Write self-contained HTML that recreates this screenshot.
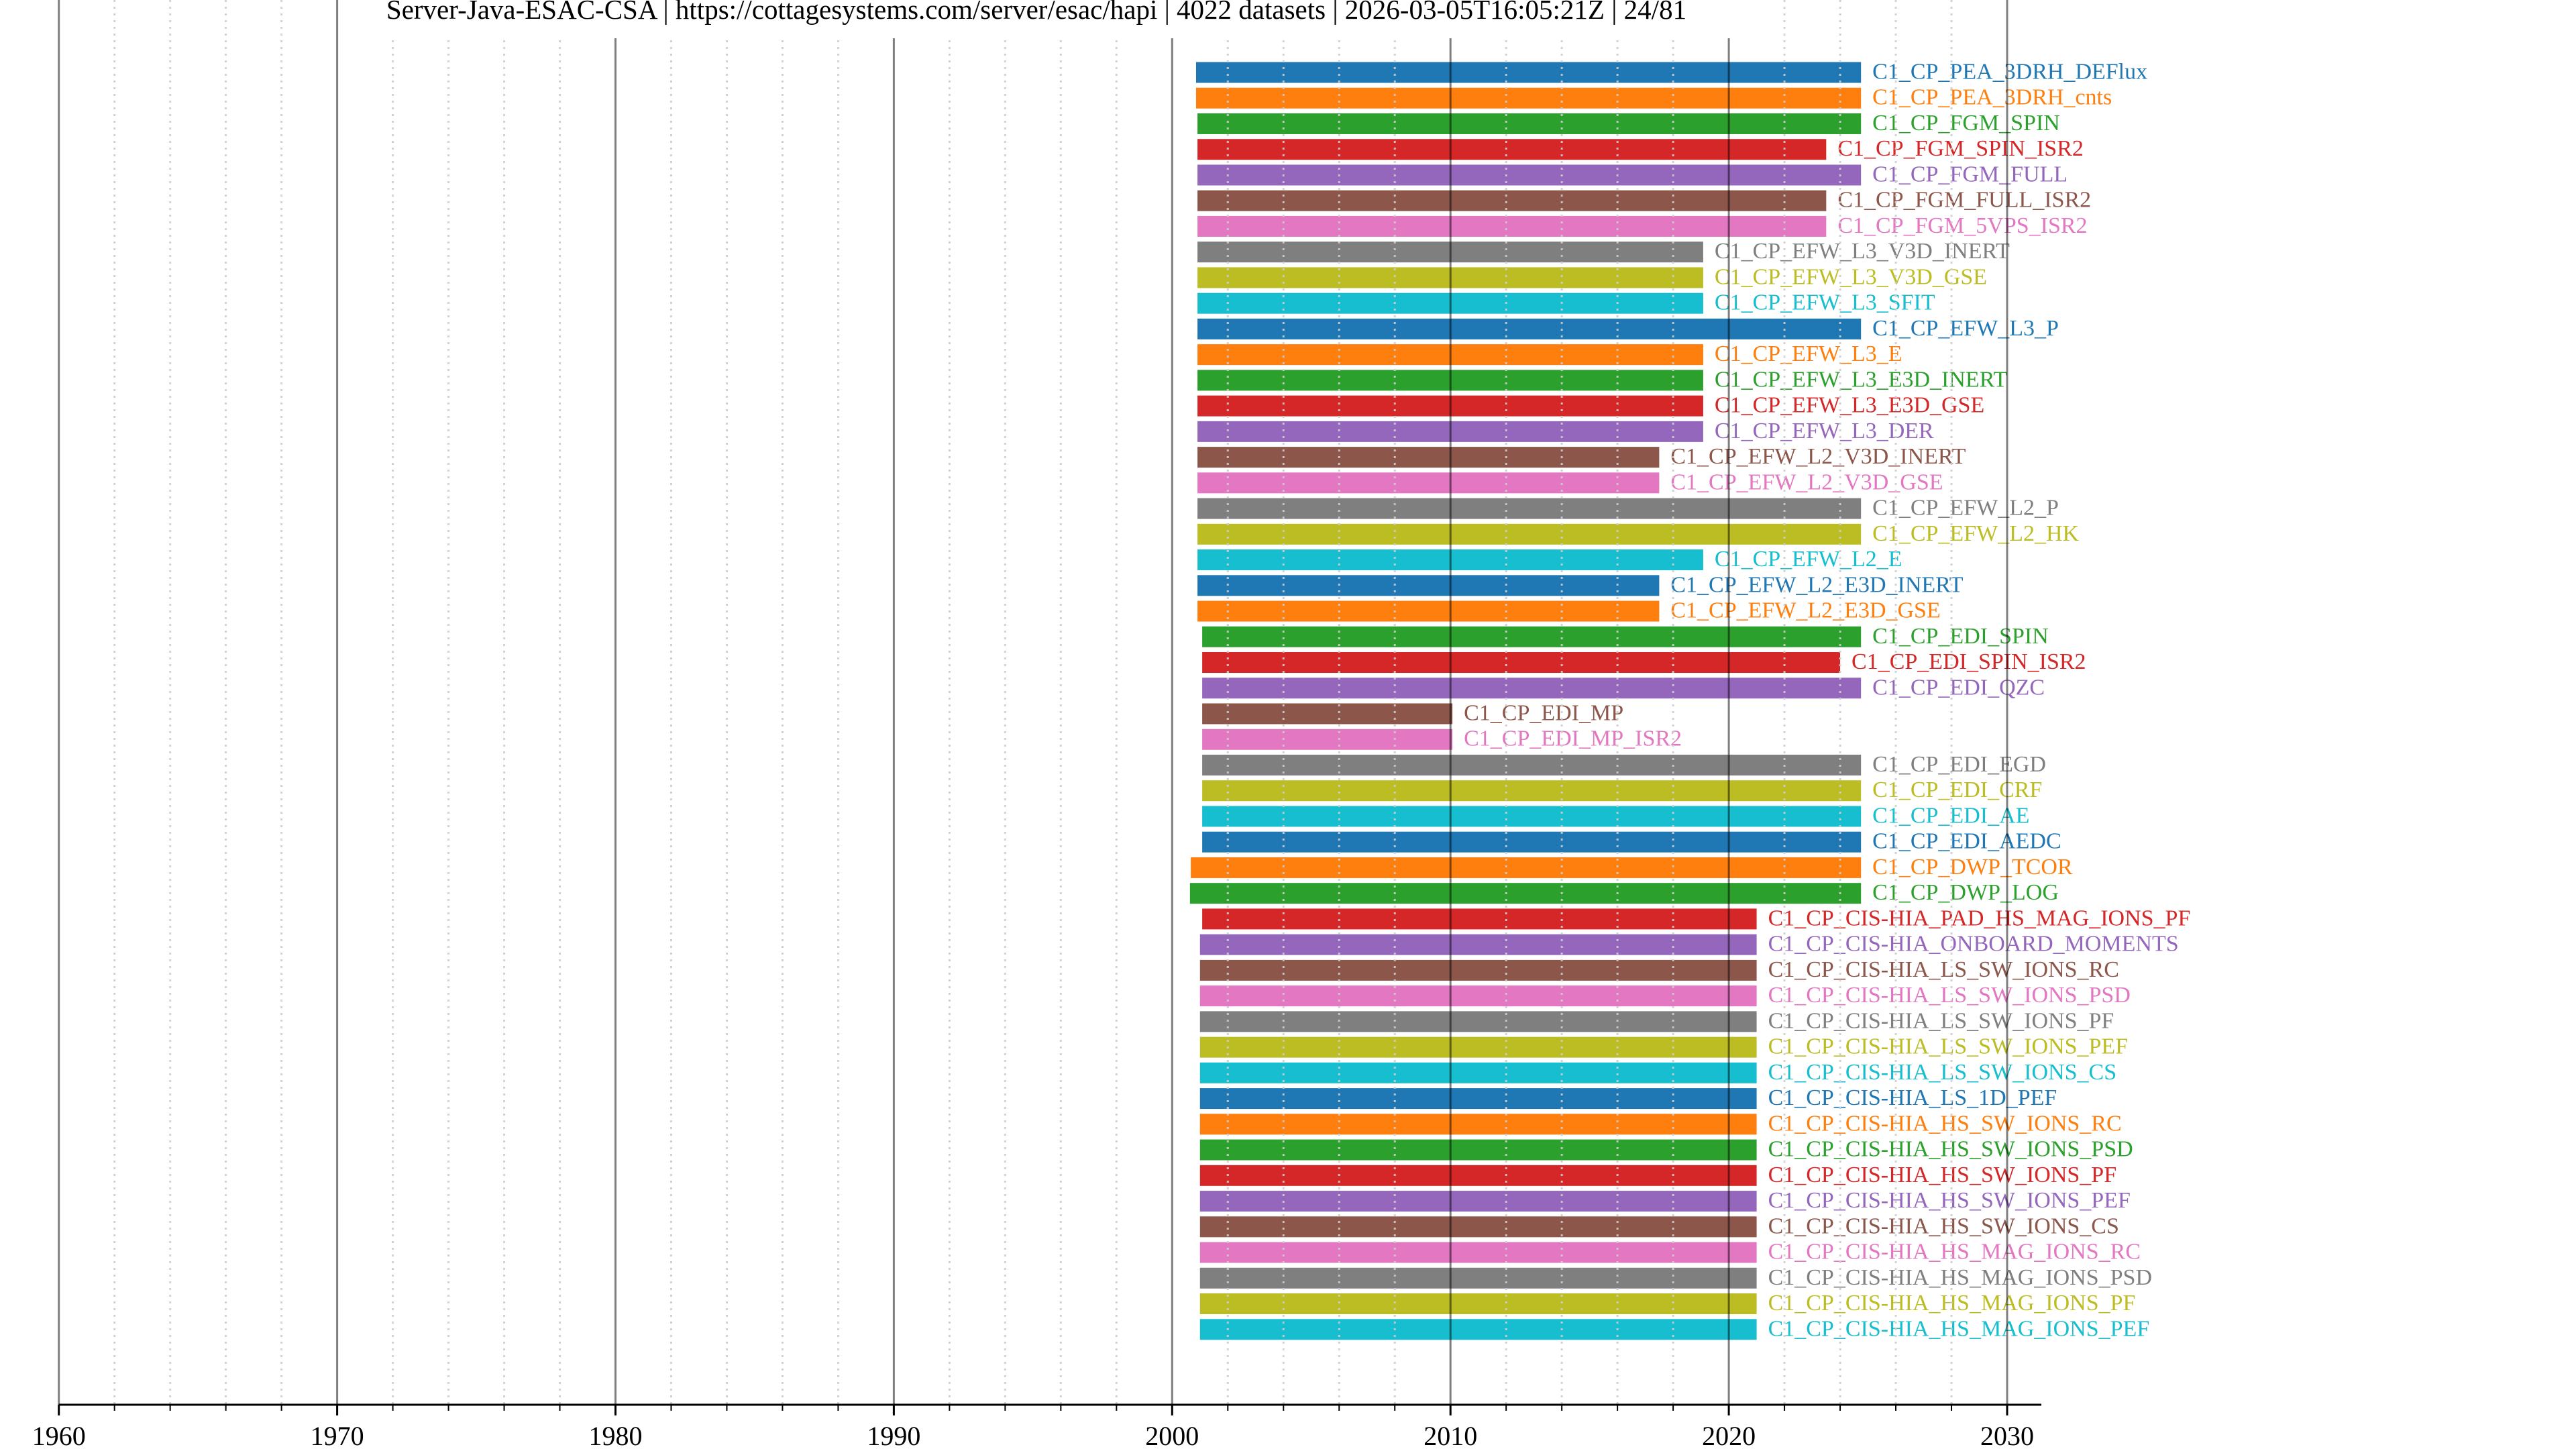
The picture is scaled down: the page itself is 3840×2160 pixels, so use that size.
<!DOCTYPE html>
<html><head><meta charset="utf-8">
<style>
html,body{margin:0;padding:0;background:#fff;}
svg{display:block;font-family:"Liberation Serif",serif;}
</style></head>
<body>
<svg id="chart" width="3840" height="2160" viewBox="0 0 3840 2160" xmlns="http://www.w3.org/2000/svg"></svg>
<script>
const names = ["C1_CP_PEA_3DRH_DEFlux","C1_CP_PEA_3DRH_cnts","C1_CP_FGM_SPIN","C1_CP_FGM_SPIN_ISR2","C1_CP_FGM_FULL","C1_CP_FGM_FULL_ISR2","C1_CP_FGM_5VPS_ISR2","C1_CP_EFW_L3_V3D_INERT","C1_CP_EFW_L3_V3D_GSE","C1_CP_EFW_L3_SFIT","C1_CP_EFW_L3_P","C1_CP_EFW_L3_E","C1_CP_EFW_L3_E3D_INERT","C1_CP_EFW_L3_E3D_GSE","C1_CP_EFW_L3_DER","C1_CP_EFW_L2_V3D_INERT","C1_CP_EFW_L2_V3D_GSE","C1_CP_EFW_L2_P","C1_CP_EFW_L2_HK","C1_CP_EFW_L2_E","C1_CP_EFW_L2_E3D_INERT","C1_CP_EFW_L2_E3D_GSE","C1_CP_EDI_SPIN","C1_CP_EDI_SPIN_ISR2","C1_CP_EDI_QZC","C1_CP_EDI_MP","C1_CP_EDI_MP_ISR2","C1_CP_EDI_EGD","C1_CP_EDI_CRF","C1_CP_EDI_AE","C1_CP_EDI_AEDC","C1_CP_DWP_TCOR","C1_CP_DWP_LOG","C1_CP_CIS-HIA_PAD_HS_MAG_IONS_PF","C1_CP_CIS-HIA_ONBOARD_MOMENTS","C1_CP_CIS-HIA_LS_SW_IONS_RC","C1_CP_CIS-HIA_LS_SW_IONS_PSD","C1_CP_CIS-HIA_LS_SW_IONS_PF","C1_CP_CIS-HIA_LS_SW_IONS_PEF","C1_CP_CIS-HIA_LS_SW_IONS_CS","C1_CP_CIS-HIA_LS_1D_PEF","C1_CP_CIS-HIA_HS_SW_IONS_RC","C1_CP_CIS-HIA_HS_SW_IONS_PSD","C1_CP_CIS-HIA_HS_SW_IONS_PF","C1_CP_CIS-HIA_HS_SW_IONS_PEF","C1_CP_CIS-HIA_HS_SW_IONS_CS","C1_CP_CIS-HIA_HS_MAG_IONS_RC","C1_CP_CIS-HIA_HS_MAG_IONS_PSD","C1_CP_CIS-HIA_HS_MAG_IONS_PF","C1_CP_CIS-HIA_HS_MAG_IONS_PEF"];
const starts = [2000.86,2000.86,2000.91,2000.91,2000.91,2000.91,2000.91,2000.91,2000.91,2000.91,2000.91,2000.91,2000.91,2000.91,2000.91,2000.91,2000.91,2000.91,2000.91,2000.91,2000.91,2000.91,2001.08,2001.08,2001.08,2001.08,2001.08,2001.08,2001.08,2001.08,2001.08,2000.67,2000.64,2001.08,2001.0,2001.0,2001.0,2001.0,2001.0,2001.0,2001.0,2001.0,2001.0,2001.0,2001.0,2001.0,2001.0,2001.0,2001.0,2001.0];
const stops = [2024.75,2024.75,2024.75,2023.5,2024.75,2023.5,2023.5,2019.08,2019.08,2019.08,2024.75,2019.08,2019.08,2019.08,2019.08,2017.5,2017.5,2024.75,2024.75,2019.08,2017.5,2017.5,2024.75,2024.0,2024.75,2010.07,2010.07,2024.75,2024.75,2024.75,2024.75,2024.75,2024.75,2021.0,2021.0,2021.0,2021.0,2021.0,2021.0,2021.0,2021.0,2021.0,2021.0,2021.0,2021.0,2021.0,2021.0,2021.0,2021.0,2021.0];
const majorTicks = [1960,1970,1980,1990,2000,2010,2020,2030];
const minorTicks = [1962,1964,1966,1968,1972,1974,1976,1978,1982,1984,1986,1988,1992,1994,1996,1998,2002,2004,2006,2008,2012,2014,2016,2018,2022,2024,2026,2028];
const titleText = "Server-Java-ESAC-CSA | https://cottagesystems.com/server/esac/hapi | 4022 datasets | 2026-03-05T16:05:21Z | 24/81";

const colors = ["#1f77b4","#ff7f0e","#2ca02c","#d62728","#9467bd","#8c564b","#e377c2","#7f7f7f","#bcbd22","#17becf"];
const NS = "http://www.w3.org/2000/svg";
const svg = document.getElementById("chart");
const X0 = 87.7, PX = 41.49, Y0 = 108, ROW = 38.24, AXY = 2094, XEND = 3043;
function xs(yr){ return X0 + (yr - 1960) * PX; }
function ys(i){ return Y0 + i * ROW; }
function mk(tag, attrs){ const e = document.createElementNS(NS, tag); for (const k in attrs) e.setAttribute(k, attrs[k]); svg.appendChild(e); return e; }

names.forEach((n, i) => {
  const c = colors[i % 10];
  const b = mk("rect", {x: xs(starts[i]), y: ys(i) - 15.5, width: xs(stops[i]) - xs(starts[i]), height: 31, fill: c});
  
  
  const t = mk("text", {x: xs(stops[i]) + 17, y: ys(i) - 1, fill: c, "font-size": 34, "dominant-baseline": "central"});
  t.textContent = n;
  
  
});

minorTicks.forEach(yr => {
  const g = mk("line", {x1: xs(yr), x2: xs(yr), y1: 0, y2: AXY, stroke: "rgba(205,205,205,0.9)", "stroke-width": 3, "stroke-dasharray": "3 7"});
  
  
});
majorTicks.forEach(yr => {
  const g = mk("line", {x1: xs(yr), x2: xs(yr), y1: 0, y2: AXY, stroke: "rgba(0,0,0,0.5)", "stroke-width": 3});
  
  
});

const tb = mk("rect", {x: 560, y: 0, width: 2030, height: 57, fill: "#fff"});


const tt = mk("text", {x: 1545, y: 28, "text-anchor": "middle", "font-size": 41, fill: "#000"});
tt.textContent = titleText;



const ax = mk("line", {x1: X0, x2: XEND, y1: AXY, y2: AXY, stroke: "#000", "stroke-width": 3});


minorTicks.forEach(yr => {
  const t = mk("line", {x1: xs(yr), x2: xs(yr), y1: AXY, y2: AXY + 9, stroke: "#000", "stroke-width": 2});
  
  
});
majorTicks.forEach(yr => {
  const t = mk("line", {x1: xs(yr), x2: xs(yr), y1: AXY, y2: AXY + 16, stroke: "#000", "stroke-width": 3});
  
  
  const l = mk("text", {x: xs(yr), y: 2154, "text-anchor": "middle", "font-size": 40, fill: "#000"});
  l.textContent = yr;
  
  
});
</script>
</body></html>
